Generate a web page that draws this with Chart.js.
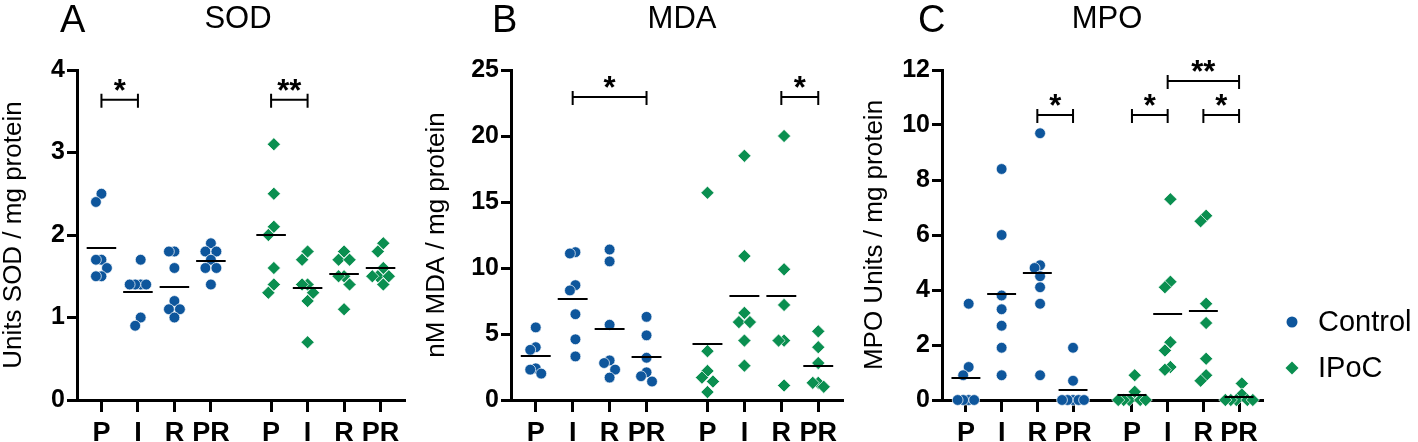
<!DOCTYPE html>
<html><head><meta charset="utf-8">
<script src="https://cdn.jsdelivr.net/npm/chart.js@4/dist/chart.umd.min.js"></script>
<style>
html,body{margin:0;padding:0;background:#fff;width:1418px;height:442px;overflow:hidden}
.box{position:absolute;top:0;height:442px}
canvas{display:block}
</style></head><body>
<div class="box" style="left:0px;width:420px"><canvas id="cA" width="420" height="442"></canvas></div>
<div class="box" style="left:423px;width:430px"><canvas id="cB" width="430" height="442"></canvas></div>
<div class="box" style="left:861px;width:557px"><canvas id="cC" width="557" height="442"></canvas></div>
<script>
// ---------- data ----------
const categories = ['P', 'I', 'R', 'PR'];
const groupNames = ['Control', 'IPoC'];

const sodControl = [[2.5,2.4,1.7,1.7,1.6,1.5,1.5],[1.7,1.4,1.4,1.4,1.4,1.0,0.9],[1.8,1.8,1.6,1.2,1.1,1.1,1.0],[1.9,1.8,1.8,1.7,1.6,1.6,1.4]];
const sodIPoC    = [[3.1,2.5,2.1,2.0,1.6,1.4,1.3],[1.8,1.7,1.4,1.4,1.3,1.2,0.7],[1.8,1.7,1.7,1.5,1.5,1.4,1.1],[1.9,1.8,1.6,1.5,1.5,1.5,1.4]];

const mdaControl = [[5.5,4.0,3.8,2.4,2.3,2.0],[11.2,11.1,8.7,8.3,6.5,4.6,3.3],[11.4,10.5,5.7,3.0,2.8,2.3,1.7],[6.3,4.9,3.2,2.1,1.8,1.4]];
const mdaIPoC    = [[15.7,3.7,2.2,1.7,1.4,0.6],[18.5,10.9,6.6,5.9,5.9,4.5,2.6],[20.0,9.9,7.2,4.5,4.5,1.1],[5.2,4.0,2.8,1.3,1.3,1.0]];

const mpoControl = [[3.5,1.2,0.9,0,0,0,0],[8.4,6.0,3.8,3.3,2.7,1.9,0.9],[9.7,4.9,4.8,4.5,4.1,3.5,0.9],[1.9,0.7,0,0,0,0,0]];
const mpoIPoC    = [[0.9,0.3,0,0,0,0,0],[7.3,4.3,4.1,2.1,1.8,1.2,1.1],[6.7,6.5,3.5,2.8,1.5,0.9,0.7],[0.6,0.2,0,0,0,0,0]];

// significance brackets: [fromColumn, toColumn, yValue, label]; columns 0-3 Control, 4-7 IPoC
const sodSig = [[0,1,3.64,'*'],[4,5,3.64,'**']];
const mdaSig = [[1,3,22.95,'*'],[6,7,22.95,'*']];
const mpoSig = [[2,3,10.36,'*'],[4,5,10.36,'*'],[6,7,10.36,'*'],[5,7,11.6,'**']];

const sodTicks = {max:4, step:1};
const mdaTicks = {max:25, step:5};
const mpoTicks = {max:12, step:2};

// ---------- styling / layout ----------
const FONT = '"Liberation Sans", Arial, Helvetica, sans-serif';
const BLUE = '#0E569C';
const GREEN = '#0A8F50';
const GROUP_GAP = 1.65;
const XMIN = 0.33, XMAX = 9.32;
const columnPos = [];
categories.forEach((c,i)=>columnPos.push(1+i));
categories.forEach((c,i)=>columnPos.push(1+categories.length-1+GROUP_GAP+i));
const columnLabels = categories.concat(categories);

function mean(a){ return a.reduce((s,v)=>s+v,0)/a.length; }

function swarm(vals, yPx, xPx, dyMin){
  const order = vals.map((v,i)=>({v,i})).sort((a,b)=>b.v-a.v);
  const placed = []; const off = new Array(vals.length).fill(0);
  const step = 5.5, dxMin = 5;
  for (const p of order){
    for (let k=0;k<60;k++){
      const cand = k===0 ? 0 : (k%2===1 ? -Math.ceil(k/2) : Math.ceil(k/2))*step;
      const py = p.v*yPx;
      const ok = placed.every(q => Math.abs(q.y-py) >= dyMin || Math.abs(q.x-cand) >= dxMin);
      if (ok){ placed.push({x:cand,y:py}); off[p.i]=cand; break; }
    }
  }
  const c = (Math.min(...off)+Math.max(...off))/2;
  return off.map(o => (o-c)/xPx);
}

const overlay = {
  id:'overlay',
  afterDatasetsDraw(chart, args, o){
    const {ctx} = chart; const x = chart.scales.x, y = chart.scales.y;
    ctx.save();
    ctx.strokeStyle = '#000'; ctx.lineWidth = 2;
    o.groups.forEach((g,gi)=>{
      g.forEach((vals,i)=>{
        const pos = columnPos[gi*categories.length+i];
        const py = Math.round(y.getPixelForValue(mean(vals)));
        ctx.beginPath();
        ctx.moveTo(x.getPixelForValue(pos-0.405), py);
        ctx.lineTo(x.getPixelForValue(pos+0.405), py);
        ctx.stroke();
      });
    });
    ctx.fillStyle = '#000';
    ctx.font = 'bold 31px ' + FONT; ctx.textAlign = 'center'; ctx.textBaseline = 'alphabetic';
    o.sig.forEach(s=>{
      const x1 = x.getPixelForValue(columnPos[s[0]]), x2 = x.getPixelForValue(columnPos[s[1]]);
      const py = y.getPixelForValue(s[2]);
      ctx.beginPath();
      ctx.moveTo(x1, py); ctx.lineTo(x2, py);
      ctx.moveTo(x1, py-6); ctx.lineTo(x1, py+8);
      ctx.moveTo(x2, py-6); ctx.lineTo(x2, py+8);
      ctx.stroke();
      ctx.fillText(s[3], (x1+x2)/2, py+1);
    });
    ctx.restore();
  },
  afterDraw(chart, args, o){
    const ctx = chart.ctx; ctx.save(); ctx.fillStyle = '#000';
    ctx.textBaseline = 'alphabetic';
    ctx.font = '38px ' + FONT; ctx.textAlign = 'left';
    ctx.fillText(o.letter, o.letterX, 32);
    ctx.font = '31px ' + FONT; ctx.textAlign = 'center';
    ctx.fillText(o.title, o.titleX, 28);
    if (o.legend){
      const L = o.legend;
      ctx.textAlign = 'left'; ctx.textBaseline = 'middle'; ctx.font = '29px ' + FONT;
      ctx.fillStyle = BLUE; ctx.beginPath(); ctx.arc(L.x, L.y1, 5.5, 0, Math.PI*2); ctx.fill();
      ctx.fillStyle = GREEN; ctx.beginPath();
      ctx.moveTo(L.x-6.5, L.y2); ctx.lineTo(L.x, L.y2-6.5); ctx.lineTo(L.x+6.5, L.y2); ctx.lineTo(L.x, L.y2+6.5); ctx.closePath(); ctx.fill();
      ctx.fillStyle = '#000';
      ctx.fillText(groupNames[0], L.tx, L.y1+1);
      ctx.fillText(groupNames[1], L.tx, L.y2+1);
    }
    ctx.restore();
  }
};

function makePanel(p){
  const yPx = 330/p.ticks.max;
  const xPx = (p.width - p.padRight - p.axisW)/(XMAX-XMIN);
  const mk = (groups, gi, dyMin) => {
    const pts = [];
    groups.forEach((vals,i)=>{
      const pos = columnPos[gi*categories.length+i];
      const offs = swarm(vals, yPx, xPx, dyMin);
      vals.forEach((v,j)=>pts.push({x:pos+offs[j], y:v}));
    });
    return pts;
  };
  new Chart(document.getElementById(p.id), {
    type:'scatter',
    data:{datasets:[
      {label:groupNames[0], data:mk(p.control,0,10), pointStyle:'circle', pointRadius:5.4, pointHoverRadius:5.4,
       backgroundColor:BLUE, borderColor:'#fff', borderWidth:0.7, clip:false},
      {label:groupNames[1], data:mk(p.ipoc,1,11), pointStyle:'rectRot', pointRadius:6.6, pointHoverRadius:6.6,
       backgroundColor:GREEN, borderColor:'#fff', borderWidth:0.7, clip:false}
    ]},
    options:{
      responsive:false, animation:false, devicePixelRatio:1,
      layout:{padding:{top:70, right:p.padRight, left:0, bottom:0}},
      plugins:{legend:{display:false}, tooltip:{enabled:false},
        overlay:{groups:[p.control,p.ipoc], sig:p.sig, letter:p.letter, letterX:p.letterX, title:p.title, titleX:p.titleX, legend:p.legend}},
      scales:{
        x:{type:'linear', min:XMIN, max:XMAX,
           afterBuildTicks:(s)=>{ s.ticks = columnPos.map(v=>({value:v})); },
           afterFit:(s)=>{ s.height = 42; },
           ticks:{autoSkip:false, maxRotation:0, padding:5, color:'#000', font:{family:FONT, size:27, weight:'bold'},
             callback:(v)=>{ const i = columnPos.findIndex(q=>Math.abs(q-v)<1e-6); return i>=0 ? columnLabels[i] : ''; }},
           grid:{drawOnChartArea:false, drawTicks:true, tickLength:12, tickWidth:3, tickColor:'#000', color:'#000'},
           border:{display:true, width:3, color:'#000'}},
        y:{type:'linear', min:0, max:p.ticks.max,
           afterFit:(s)=>{ s.width = p.axisW; },
           ticks:{stepSize:p.ticks.step, padding:2, color:'#000', font:{family:FONT, size:25, weight:'bold'}},
           grid:{drawOnChartArea:false, drawTicks:true, tickLength:10, tickWidth:3, tickColor:'#000', color:'#000'},
           border:{display:true, width:3, color:'#000'},
           title:{display:true, text:p.yTitle, color:'#000', padding:0, font:{family:FONT, size:26, lineHeight:1.05}}}
      }
    },
    plugins:[overlay]
  });
}

makePanel({id:'cA', width:420, axisW:77, padRight:15, ticks:sodTicks, control:sodControl, ipoc:sodIPoC, sig:sodSig,
  yTitle:'Units SOD / mg protein', letter:'A', letterX:60, title:'SOD', titleX:238});
makePanel({id:'cB', width:430, axisW:88, padRight:10, ticks:mdaTicks, control:mdaControl, ipoc:mdaIPoC, sig:mdaSig,
  yTitle:'nM MDA / mg protein', letter:'B', letterX:492-423, title:'MDA', titleX:682-423});
makePanel({id:'cC', width:557, axisW:81, padRight:155, ticks:mpoTicks, control:mpoControl, ipoc:mpoIPoC, sig:mpoSig,
  yTitle:'MPO Units / mg protein', letter:'C', letterX:918-861, title:'MPO', titleX:1107-861,
  legend:{x:1292-861, tx:1318-861, y1:322, y2:368}});
</script>
</body></html>
